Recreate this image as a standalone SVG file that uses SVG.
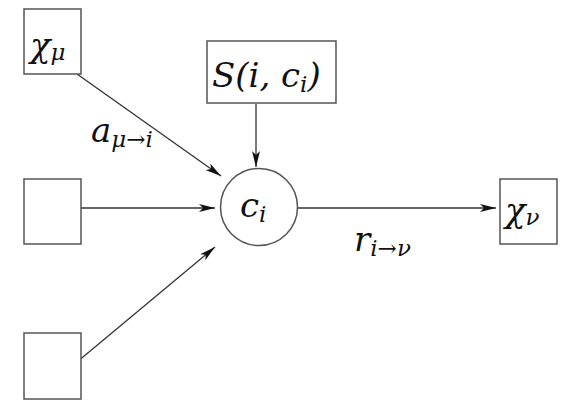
<svg xmlns="http://www.w3.org/2000/svg" width="570" height="411" viewBox="0 0 570 411">
<style>
.box{fill:#fff;stroke:#555;stroke-width:1.5}
.ln{stroke:#333;stroke-width:1.3;fill:none;marker-end:url(#ah)}
.t{font-family:"DejaVu Serif","Liberation Serif",serif;font-style:italic;font-size:34px;fill:#111}
.s{font-size:23px}
</style>
<defs>
<marker id="ah" viewBox="0 0 16 8" refX="16" refY="4" markerWidth="16" markerHeight="8" markerUnits="userSpaceOnUse" orient="auto">
<path d="M0,0 L16,4 L0,8 L4,4 Z" fill="#111"/>
</marker>
</defs>
<rect width="570" height="411" fill="#fff"/>
<g id="connectors">
<line class="ln" x1="77" y1="74" x2="221" y2="176"/>
<line class="ln" x1="256" y1="104" x2="256" y2="167"/>
<line class="ln" x1="77" y1="208" x2="215" y2="208"/>
<line class="ln" x1="77" y1="362" x2="215" y2="247"/>
<line class="ln" x1="298" y1="208" x2="496" y2="208"/>
</g>
<g id="chi_mu">
<rect class="box" x="24" y="9" width="57" height="65"/>
<text class="t" x="30" y="57">χ<tspan class="s" dy="3">μ</tspan></text>
</g>
<g id="S">
<rect class="box" x="207" y="41" width="129" height="62"/>
<text class="t" x="212" y="87">S(i, c<tspan class="s" dy="5">i</tspan><tspan dy="-5">)</tspan></text>
</g>
<g id="c_i">
<circle class="box" cx="259" cy="207" r="38.5"/>
<text class="t" x="240" y="217">c<tspan class="s" dy="5">i</tspan></text>
</g>
<g id="box_mid">
<rect class="box" x="24" y="179" width="57" height="65"/>
</g>
<g id="box_bot">
<rect class="box" x="24" y="333" width="57" height="66"/>
</g>
<g id="chi_nu">
<rect class="box" x="500" y="179" width="57" height="65"/>
<text class="t" x="505" y="222">χ<tspan class="s" dy="3">ν</tspan></text>
</g>
<g id="labels">
<text class="t" x="91" y="142">a<tspan class="s" dy="5">μ→i</tspan></text>
<text class="t" x="354" y="251">r<tspan class="s" dy="5">i→ν</tspan></text>
</g>
</svg>
